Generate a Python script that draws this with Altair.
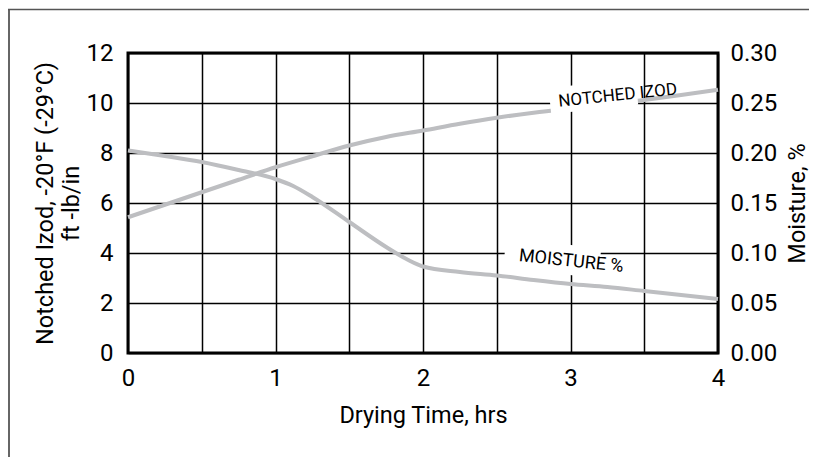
import altair as alt
import pandas as pd

# ---- data ----
izod_hours = [0, 0.25, 0.5, 0.75, 1.0, 1.25, 1.5, 1.75, 2.0, 2.25, 2.5, 2.75, 3.0, 3.25, 3.5, 3.75, 4.0]
izod_values = [5.43, 5.93, 6.43, 6.93, 7.43, 7.87, 8.3, 8.64, 8.9, 9.17, 9.41, 9.61, 9.78, 9.94, 10.12, 10.32, 10.53]

moist_hours = [0, 0.25, 0.5, 0.75, 1.0, 1.12, 1.25, 1.5, 1.75, 1.9, 2.0, 2.25, 2.5, 2.75, 3.0, 3.25, 3.5, 3.75, 4.0]
moist_values = [0.2025, 0.197, 0.191, 0.183, 0.174, 0.167, 0.156, 0.131, 0.106, 0.093, 0.0865, 0.081,
                0.0775, 0.073, 0.069, 0.066, 0.062, 0.058, 0.054]

x_grid_values = [0, 0.5, 1, 1.5, 2, 2.5, 3, 3.5, 4]
left_tick_values = [0, 2, 4, 6, 8, 10, 12]
right_tick_values = [0, 0.05, 0.10, 0.15, 0.20, 0.25, 0.30]

x_title = "Drying Time, hrs"
left_title = ["Notched Izod, -20°F (-29°C)", "ft -lb/in"]
right_title = "Moisture, %"

izod_label = ["NOTCHED IZOD"]
izod_label_x = [3.32]
izod_label_y = [10.3]
izod_band_x = [2.86]
izod_band_x2 = [3.45]
izod_band_y = [10.08]
izod_band_y2 = [10.45]

moist_label = ["MOISTURE %"]
moist_label_x = [3.005]
moist_label_y = [0.0915]
moist_band_x = [2.554]
moist_band_x2 = [3.198]
moist_band_y = [0.0999]
moist_band_y2 = [0.0899]

# ---- styling ----
FONT = "Roboto"
LINE_COLOR = "#bdbec1"
W, H = 590, 300

izod_df = pd.DataFrame({"h": izod_hours, "v": izod_values})
moist_df = pd.DataFrame({"h": moist_hours, "m": moist_values})
izod_lab_df = pd.DataFrame({"t": izod_label, "h": izod_label_x, "v": izod_label_y,
                            "bx": izod_band_x, "bx2": izod_band_x2, "by": izod_band_y, "by2": izod_band_y2})
moist_lab_df = pd.DataFrame({"t": moist_label, "h": moist_label_x, "m": moist_label_y,
                             "bx": moist_band_x, "bx2": moist_band_x2, "by": moist_band_y, "by2": moist_band_y2})

x_scale = alt.Scale(domain=[0, 4], nice=False)
left_scale = alt.Scale(domain=[0, 12], nice=False)
right_scale = alt.Scale(domain=[0, 0.3], nice=False)

x_axis = alt.Axis(values=x_grid_values, format=".0f",
                  labelExpr="datum.value % 1 === 0 ? datum.label : ''",
                  ticks=False, domain=False, grid=True, labelPadding=13.5,
                  labelFlush=False, labelOverlap=False, labelAngle=0,
                  title=x_title, titleY=69.5, titleBaseline="alphabetic")

left_axis = alt.Axis(values=left_tick_values, ticks=False, domain=False, grid=True,
                     labelPadding=15, labelFlush=False, labelOverlap=False,
                     title=left_title, titleX=-75.7, titleY=150, titleAngle=270,
                     titleBaseline="alphabetic", titleAlign="center", titleLineHeight=26)

right_axis = alt.Axis(values=right_tick_values, format=".2f", orient="right", ticks=False,
                      domain=False, grid=False, labelPadding=12, labelFlush=False, labelOverlap=False,
                      title=right_title, titleX=86, titleY=150, titleAngle=270,
                      titleBaseline="alphabetic", titleAlign="center")

X = alt.X("h:Q", scale=x_scale, axis=x_axis)

# --- izod series (left axis) ---
izod_line = alt.Chart(izod_df).mark_line(color=LINE_COLOR, strokeWidth=4, interpolate="monotone").encode(
    x=X,
    y=alt.Y("v:Q", scale=left_scale, axis=left_axis),
)
izod_band = alt.Chart(izod_lab_df).mark_rule(color="white", strokeWidth=26, strokeCap="butt").encode(
    x=alt.X("bx:Q", scale=x_scale, axis=x_axis),
    x2="bx2:Q",
    y=alt.Y("by:Q", scale=left_scale, axis=left_axis),
    y2="by2:Q",
)
izod_text = alt.Chart(izod_lab_df).mark_text(font=FONT, fontSize=17, angle=354, color="black",
                                             align="center", baseline="middle").encode(
    x=X,
    y=alt.Y("v:Q", scale=left_scale, axis=left_axis),
    text="t:N",
)

# --- moisture series (right axis) ---
moist_line = alt.Chart(moist_df).mark_line(color=LINE_COLOR, strokeWidth=4, interpolate="monotone").encode(
    x=X,
    y=alt.Y("m:Q", scale=right_scale, axis=right_axis),
)
moist_band = alt.Chart(moist_lab_df).mark_rule(color="white", strokeWidth=30, strokeCap="butt").encode(
    x=alt.X("bx:Q", scale=x_scale, axis=x_axis),
    x2="bx2:Q",
    y=alt.Y("by:Q", scale=right_scale, axis=right_axis),
    y2="by2:Q",
)
moist_text = alt.Chart(moist_lab_df).mark_text(font=FONT, fontSize=18, angle=6, color="black",
                                               align="center", baseline="middle").encode(
    x=X,
    y=alt.Y("m:Q", scale=right_scale, axis=right_axis),
    text="t:N",
)

# --- outer frame (decorative, partly off-canvas in the reference) ---
frame_df = pd.DataFrame({"k": [0]})
frame_left = alt.Chart(frame_df).mark_rule(color="#666666", strokeWidth=2).encode(
    x=alt.value(-119), y=alt.value(-44), y2=alt.value(404))
frame_top = alt.Chart(frame_df).mark_rule(color="#555555", strokeWidth=1.5).encode(
    y=alt.value(-43.5), x=alt.value(-120), x2=alt.value(681))

izod_layer = alt.layer(izod_line, izod_band, izod_text)
moist_layer = alt.layer(moist_line, moist_band, moist_text)

chart = alt.layer(izod_layer, moist_layer, frame_left, frame_top).resolve_scale(
    y="independent"
).properties(
    width=W, height=H,
    autosize=alt.AutoSizeParams(type="none"),
    padding={"left": 120, "top": 45, "right": 91, "bottom": 104},
    background="white",
).configure_axis(
    labelFont=FONT, labelFontSize=24, labelColor="black",
    titleFont=FONT, titleFontSize=23.5, titleColor="black", titleFontWeight="normal",
    gridColor="black", gridWidth=1.5, gridOpacity=1,
).configure_view(stroke="black", strokeWidth=3)

chart.save("out.html", embed_options={"renderer": "svg", "actions": False})
